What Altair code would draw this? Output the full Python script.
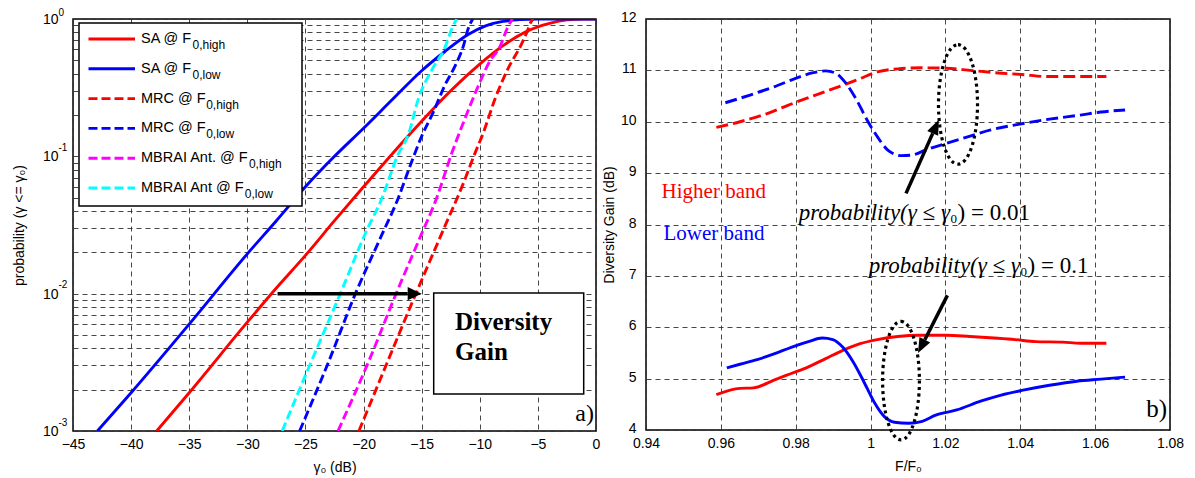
import math
import altair as alt
import pandas as pd

# ---------------- Panel a) : CDF curves (gamma0 in dB, probability) ----------------
sa_high_db = [-37.8, -35, -30, -27.5, -25, -22.5, -20, -17.5, -15, -12.5, -10, -8, -6, -4, -2.5, -1, 0]
sa_high_p = [0.001, 0.0019, 0.0062, 0.011, 0.019, 0.034, 0.06, 0.105, 0.18, 0.30, 0.47, 0.64, 0.81, 0.93, 0.985, 1.0, 1.0]

sa_low_db = [-42.9, -40, -35, -30, -27.5, -25, -22.5, -20, -17.5, -15, -13, -11, -9.5, -8, -6.5, -5, 0]
sa_low_p = [0.001, 0.0019, 0.006, 0.0195, 0.034, 0.06, 0.1, 0.16, 0.26, 0.42, 0.58, 0.77, 0.89, 0.96, 0.99, 1.0, 1.0]

mrc_high_db = [-20.4, -18, -15.5, -13, -11.4, -10.4, -9.7, -8.7, -7.6, -6.4, -5.9, -5.6, -5.4]
mrc_high_p = [0.001, 0.0031, 0.01, 0.031, 0.064, 0.106, 0.148, 0.26, 0.43, 0.66, 0.82, 0.95, 1.0]

mrc_low_db = [-25.5, -23, -20.7, -18.5, -17, -16, -15, -14, -13, -12.1, -11.4, -11, -10.6]
mrc_low_p = [0.001, 0.0032, 0.01, 0.026, 0.05, 0.085, 0.14, 0.21, 0.33, 0.46, 0.64, 0.85, 1.0]

mbrai_high_db = [-22.2, -19.5, -17.2, -15.2, -13.7, -12.4, -11.3, -10.1, -9.1, -8.3, -7.6, -7.2]
mbrai_high_p = [0.001, 0.0033, 0.01, 0.025, 0.05, 0.106, 0.186, 0.33, 0.5, 0.62, 0.87, 1.0]

mbrai_low_db = [-27.0, -24.5, -22, -19.8, -18.4, -17.1, -16.1, -15.3, -14.1, -13, -12.4, -12]
mbrai_low_p = [0.001, 0.0032, 0.01, 0.028, 0.05, 0.1, 0.148, 0.26, 0.43, 0.62, 0.85, 1.0]

legend_main = ["SA @ F", "SA @ F", "MRC @ F", "MRC @ F", "MBRAI Ant. @ F", "MBRAI Ant @ F"]
legend_sub = ["0,high", "0,low", "0,high", "0,low", "0,high", "0,low"]

# ---------------- Panel b) : diversity gain vs F/F0 ----------------
high01_x = [0.9588, 0.9651, 0.9724, 0.9779, 0.9853, 0.9926, 0.9972, 1.0018, 1.0073, 1.0138, 1.0203,
            1.0266, 1.034, 1.0404, 1.0469, 1.0533, 1.063]
high01_y = [9.89, 10.0, 10.16, 10.32, 10.52, 10.71, 10.84, 10.97, 11.03, 11.05, 11.04,
            11.0, 10.95, 10.92, 10.88, 10.88, 10.88]

low01_x = [0.9612, 0.9678, 0.9742, 0.9798, 0.9844, 0.988, 0.9908, 0.9935, 0.9963, 0.9991, 1.0018,
           1.0046, 1.0083, 1.011, 1.0147, 1.0202, 1.0257, 1.0321, 1.0395, 1.0478, 1.056, 1.0616, 1.068]
low01_y = [10.37, 10.52, 10.68, 10.84, 10.95, 10.99, 10.94, 10.74, 10.42, 10.03, 9.71,
           9.45, 9.34, 9.35, 9.45, 9.58, 9.70, 9.84, 9.95, 10.05, 10.13, 10.19, 10.23]

high1_x = [0.9588, 0.9651, 0.9687, 0.9742, 0.9788, 0.9834, 0.988, 0.9926, 0.9972, 1.0018, 1.0073,
           1.0128, 1.0202, 1.0266, 1.033, 1.0386, 1.0441, 1.0514, 1.056, 1.063]
high1_y = [4.69, 4.81, 4.82, 4.97, 5.10, 5.23, 5.39, 5.55, 5.68, 5.76, 5.82,
           5.845, 5.845, 5.82, 5.79, 5.76, 5.72, 5.71, 5.69, 5.69]

low1_x = [0.9616, 0.9651, 0.9697, 0.9742, 0.9788, 0.9834, 0.9871, 0.9899, 0.9926, 0.9954, 0.9982,
          1.0009, 1.0037, 1.0064, 1.0101, 1.0138, 1.0174, 1.023, 1.0294, 1.0349, 1.0404, 1.0478,
          1.0551, 1.0616, 1.068]
low1_y = [5.21, 5.28, 5.37, 5.48, 5.61, 5.72, 5.79, 5.76, 5.61, 5.32, 4.94,
          4.55, 4.26, 4.15, 4.13, 4.17, 4.29, 4.39, 4.56, 4.68, 4.77, 4.87,
          4.95, 4.99, 5.03]

# ---------------- layout constants ----------------
WA, HA = 523, 412
WB, HB = 524, 411
SANS = "Liberation Sans"
SERIF = "Liberation Serif"
ONE = alt.Data(values=[{"k": 0}])
LW = 2.9

ARIAL_W = {"S": 667, "A": 667, " ": 278, "@": 1015, "F": 611, "M": 833, "R": 722, "C": 722,
           "B": 667, "I": 278, "n": 556, "t": 278, ".": 278}


def text_w(s, size):
    return sum(ARIAL_W.get(c, 556) for c in s) * size / 1000.0


minor_vals = []
for k in range(-3, 0):
    for m in range(1, 10):
        minor_vals.append(round(m * 10 ** k, 6))
minor_vals.append(1.0)


def xa():
    return alt.X("db:Q", scale=alt.Scale(domain=[-45, 0], nice=False, zero=False),
                 axis=alt.Axis(values=list(range(-45, 1, 5)), title="γ₀ (dB)", labelFlush=False,
                               labelPadding=6, titlePadding=9, grid=True))


def ya():
    return alt.Y("p:Q", scale=alt.Scale(type="log", domain=[0.001, 1], nice=False),
                 axis=alt.Axis(values=minor_vals, labels=False, grid=True,
                               title="probability (γ <= γ₀)", titlePadding=47,
                               minExtent=0, maxExtent=0))


def xb():
    return alt.X("f:Q", scale=alt.Scale(domain=[0.94, 1.08], nice=False, zero=False),
                 axis=alt.Axis(values=[0.94, 0.96, 0.98, 1.0, 1.02, 1.04, 1.06, 1.08],
                               labelExpr="datum.value + ''", title="F/F₀", labelFlush=False,
                               labelPadding=6, titlePadding=9, grid=True))


def yb():
    return alt.Y("g:Q", scale=alt.Scale(domain=[4, 12], nice=False, zero=False),
                 axis=alt.Axis(values=list(range(4, 13)), title="Diversity Gain (dB)",
                               labelPadding=10, titlePadding=4, labelOffset=-1.5, grid=True))


def arrow_parts(tail, tip, head_len, head_half, width):
    dx, dy = tip[0] - tail[0], tip[1] - tail[1]
    L = math.hypot(dx, dy)
    ux, uy = dx / L, dy / L
    base = (tip[0] - ux * head_len, tip[1] - uy * head_len)
    cen = (tip[0] - ux * head_len / 2, tip[1] - uy * head_len / 2)
    ang = math.degrees(math.atan2(dy, dx)) % 360
    hh = head_half / (head_len / 2)
    shape = f"M1,0L-1,{-hh:.3f}L-1,{hh:.3f}Z"
    rule = alt.Chart(ONE).mark_rule(color="black", strokeWidth=width).encode(
        x=alt.value(tail[0]), y=alt.value(tail[1]), x2=alt.value(base[0]), y2=alt.value(base[1]))
    head = alt.Chart(ONE).mark_point(shape=shape, filled=True, color="black", opacity=1).encode(
        x=alt.value(cen[0]), y=alt.value(cen[1]), size=alt.value(head_len ** 2), angle=alt.value(ang))
    return [rule, head]


def ellipse(cx, cy, rx, ry):
    r = rx / ry
    path = f"M0,-1A{r:.3f},1,0,1,1,0,1A{r:.3f},1,0,1,1,0,-1Z"
    return alt.Chart(ONE).mark_point(shape=path, filled=False, stroke="black", strokeWidth=3.2,
                                     strokeDash=[3, 3.5], opacity=1).encode(
        x=alt.value(cx), y=alt.value(cy), size=alt.value((2 * ry) ** 2))


# ---------------- build panel a) ----------------
series_a = [
    (sa_high_db, sa_high_p, "#ff0000", False),
    (sa_low_db, sa_low_p, "#0000ff", False),
    (mrc_high_db, mrc_high_p, "#ff0000", True),
    (mrc_low_db, mrc_low_p, "#0000ff", True),
    (mbrai_high_db, mbrai_high_p, "#ff00ff", True),
    (mbrai_low_db, mbrai_low_p, "#00ffff", True),
]

layers_a = []
for db, p, col, dashed in series_a:
    kw = dict(color=col, strokeWidth=LW, interpolate="monotone", clip=True)
    if dashed:
        kw["strokeDash"] = [9, 4]
    layers_a.append(alt.Chart(pd.DataFrame({"db": db, "p": p})).mark_line(**kw).encode(x=xa(), y=ya()))

# custom 10^k labels
dec_df = pd.DataFrame({"p": [1.0, 0.1, 0.01, 0.001], "e": ["0", "-1", "-2", "-3"], "db": [-45] * 4})
layers_a.append(alt.Chart(dec_df).mark_text(text="10", align="right", baseline="middle", font=SANS,
                                            fontSize=14, dy=1).encode(x=alt.value(-14.5), y=ya()))
layers_a.append(alt.Chart(dec_df).transform_filter("datum.p < 0.5").mark_text(
    align="left", baseline="middle", font=SANS, fontSize=10, dy=-8.5).encode(
    x=alt.value(-14.5), y=ya(), text="e:N"))
layers_a.append(alt.Chart(dec_df).transform_filter("datum.p > 0.5").mark_text(
    align="left", baseline="middle", font=SANS, fontSize=10, dy=-6).encode(
    x=alt.value(-14.5), y=ya(), text="e:N"))

# legend box
layers_a.append(alt.Chart(ONE).mark_rect(fill="white", stroke="black", strokeWidth=1.5).encode(
    x=alt.value(6), x2=alt.value(229), y=alt.value(4), y2=alt.value(187)))
for i, (main, sub) in enumerate(zip(legend_main, legend_sub)):
    ry = 20 + 29.8 * i
    col = series_a[i][2]
    kw = dict(color=col, strokeWidth=LW)
    if series_a[i][3]:
        kw["strokeDash"] = [9, 4]
    layers_a.append(alt.Chart(ONE).mark_rule(**kw).encode(
        x=alt.value(15.5), x2=alt.value(62), y=alt.value(ry), y2=alt.value(ry)))
    layers_a.append(alt.Chart(ONE).mark_text(text=main, align="left", baseline="middle", font=SANS,
                                             fontSize=14.5).encode(x=alt.value(68), y=alt.value(ry)))
    layers_a.append(alt.Chart(ONE).mark_text(text=sub, align="left", baseline="middle", font=SANS,
                                             fontSize=12).encode(x=alt.value(68 + text_w(main, 14.5) + 0.5),
                                                                  y=alt.value(ry + 6)))

# Diversity Gain box + arrow
layers_a.append(alt.Chart(ONE).mark_rect(fill="white", stroke="black", strokeWidth=1.5).encode(
    x=alt.value(360.7), x2=alt.value(510.7), y=alt.value(274), y2=alt.value(375)))
layers_a.append(alt.Chart(ONE).mark_text(text="Diversity", align="left", baseline="middle", font=SERIF,
                                         fontSize=25, fontWeight="bold").encode(x=alt.value(382), y=alt.value(302.5)))
layers_a.append(alt.Chart(ONE).mark_text(text="Gain", align="left", baseline="middle", font=SERIF,
                                         fontSize=25, fontWeight="bold").encode(x=alt.value(382), y=alt.value(332.5)))
px_db = WA / 45.0
arr_df = pd.DataFrame({"db": [-27.4], "db2": [-15.0 - 14 / px_db], "p": [0.01]})
layers_a.append(alt.Chart(arr_df).mark_rule(color="black", strokeWidth=3.5).encode(x=xa(), x2="db2:Q", y=ya()))
head_df = pd.DataFrame({"db": [-15.0 - 7 / px_db], "p": [0.01]})
layers_a.append(alt.Chart(head_df).mark_point(shape="M1,0L-1,-0.95L-1,0.95Z", filled=True, color="black",
                                              opacity=1, size=196).encode(x=xa(), y=ya()))
layers_a.append(alt.Chart(ONE).mark_text(text="a)", align="right", baseline="middle", font=SERIF,
                                         fontSize=24).encode(x=alt.value(521), y=alt.value(395)))

panel_a = alt.layer(*layers_a).properties(width=WA, height=HA)

# ---------------- build panel b) ----------------
series_b = [
    (high01_x, high01_y, "#ff0000", True),
    (low01_x, low01_y, "#0000ff", True),
    (high1_x, high1_y, "#ff0000", False),
    (low1_x, low1_y, "#0000ff", False),
]
layers_b = []
for fx, gy, col, dashed in series_b:
    kw = dict(color=col, strokeWidth=LW, interpolate="monotone", clip=True)
    if dashed:
        kw["strokeDash"] = [12, 5]
    layers_b.append(alt.Chart(pd.DataFrame({"f": fx, "g": gy})).mark_line(**kw).encode(x=xb(), y=yb()))

layers_b.append(alt.Chart(ONE).mark_text(text="Higher band", align="left", baseline="middle", font=SERIF,
                                         fontSize=21, color="#ff0000").encode(x=alt.value(15.6), y=alt.value(173)))
layers_b.append(alt.Chart(ONE).mark_text(text="Lower band", align="left", baseline="middle", font=SERIF,
                                         fontSize=21, color="#0000ff").encode(x=alt.value(17.5), y=alt.value(215)))

for (p0, yy, val) in [(304, 194, ") = 0.01"), (374, 247, ") = 0.1")]:
    layers_b.append(alt.Chart(ONE).mark_text(text="probability(γ ≤ γ", align="right", baseline="middle",
                                             font=SERIF, fontSize=23, fontStyle="italic").encode(
        x=alt.value(p0), y=alt.value(yy)))
    layers_b.append(alt.Chart(ONE).mark_text(text="0", align="left", baseline="middle", font=SERIF,
                                             fontSize=13).encode(x=alt.value(p0 + 0.5), y=alt.value(yy + 6)))
    layers_b.append(alt.Chart(ONE).mark_text(text=val, align="left", baseline="middle", font=SERIF,
                                             fontSize=23).encode(x=alt.value(p0 + 7.5), y=alt.value(yy)))

layers_b += arrow_parts((260, 174.4), (292.8, 100.7), 15, 6, 3.5)
layers_b += arrow_parts((301.4, 276.4), (272, 334.1), 15, 6, 3.5)
layers_b.append(ellipse(312, 85.4, 19.5, 59.7))
layers_b.append(ellipse(255, 361.6, 18.4, 59.2))
layers_b.append(alt.Chart(ONE).mark_text(text="b)", align="right", baseline="middle", font=SERIF,
                                         fontSize=25).encode(x=alt.value(521), y=alt.value(390)))

panel_b = alt.layer(*layers_b).properties(width=WB, height=HB)

chart = alt.hconcat(panel_a, panel_b, spacing=0).properties(
    padding={"left": 3, "top": -1, "right": 0, "bottom": 0}
).configure_view(stroke="black", strokeWidth=1.5).configure_axis(
    labelFont=SANS, labelFontSize=14, labelColor="black", titleFont=SANS, titleFontSize=14,
    titleFontWeight="normal", titleColor="black", domain=False, ticks=False,
    gridColor="#333333", gridOpacity=0.9, gridDash=[5, 4], gridWidth=1
)

chart.save("out.html", embed_options={"renderer": "svg", "actions": False})
